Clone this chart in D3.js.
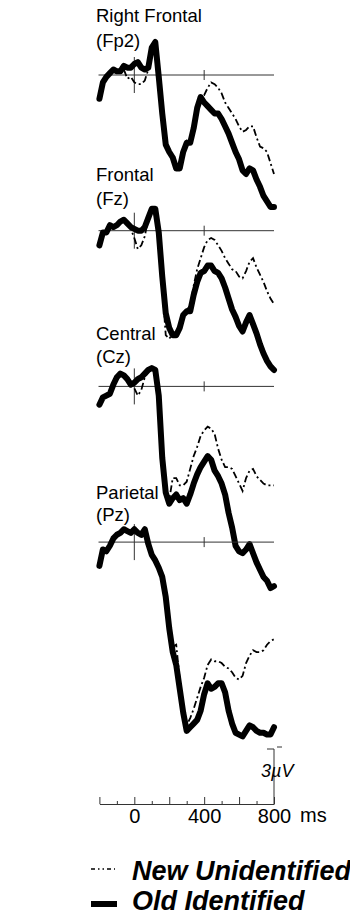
<!DOCTYPE html>
<html>
<head>
<meta charset="utf-8">
<script src="https://cdn.jsdelivr.net/npm/d3@7"></script>
<style>
body { margin: 0; background: #fff; }
svg { display: block; font-family: "Liberation Sans", Arial, sans-serif; }
</style>
</head>
<body>
<script>
// time points (ms), every 20 ms
var times = d3.range(-200, 801, 20);

var sites = ["Right Frontal", "Frontal", "Central", "Parietal"];
var siteCodes = ["(Fp2)", "(Fz)", "(Cz)", "(Pz)"];
var seriesNames = ["New Unidentified", "Old Identified"];

// amplitudes in microvolts, one value per time point
var oldFp2 = [-1.3, -0.4, -0.1, 0.1, 0.3, 0.2, 0.2, 0.5, 0.4, 0.4, 0.6, 0.7, 0.4, 0.3, 0.4, 1.5, 1.8, -0.1, -2.1, -3.8, -4.2, -4.5, -5.1, -5.1, -4.2, -3.7, -3.7, -2.9, -1.8, -1.2, -1.5, -1.7, -1.9, -2.1, -2.1, -2.4, -2.8, -3.2, -3.7, -4.2, -4.6, -5.2, -5.4, -5.1, -5.2, -5.7, -6.1, -6.6, -6.9, -7.2, -7.2];
var newFp2 = [-1.3, -0.4, -0.1, 0.1, 0.2, 0.2, 0.1, 0.3, -0.2, -0.1, -0.4, -0.5, -0.5, -0.3, 0.3, 1.4, 1.7, -0.2, -2.2, -3.9, -4.1, -4.6, -5.0, -5.0, -4.1, -3.6, -3.8, -2.8, -1.7, -1.2, -1.1, -0.7, -0.4, -0.5, -0.7, -1.0, -1.5, -1.8, -2.1, -2.4, -2.8, -3.1, -3.0, -2.8, -2.8, -3.4, -3.9, -4.0, -4.2, -4.8, -5.4];

var oldFz = [-0.8, -0.1, -0.1, 0.3, 0.2, 0.3, 0.5, 0.6, 0.4, 0.2, 0.1, 0.0, 0.0, 0.2, 0.7, 1.2, 1.2, -0.1, -2.5, -4.5, -5.3, -5.7, -5.7, -5.3, -4.6, -4.4, -4.4, -3.5, -2.8, -2.3, -2.2, -1.9, -1.9, -2.2, -2.3, -2.6, -3.1, -3.7, -4.3, -4.7, -5.2, -5.5, -5.0, -4.6, -5.1, -5.6, -6.2, -6.7, -7.1, -7.4, -7.6];
var newFz = [-0.8, -0.1, -0.1, 0.3, 0.2, 0.3, 0.4, 0.5, 0.3, 0.1, -0.4, -1.0, -0.8, -0.3, 0.7, 1.2, 1.1, -0.2, -3.0, -5.7, -5.9, -5.6, -5.5, -5.2, -4.5, -4.3, -4.1, -3.0, -2.1, -1.5, -0.9, -0.5, -0.4, -0.5, -0.8, -1.1, -1.5, -1.8, -2.1, -2.2, -2.5, -2.6, -2.2, -1.7, -1.5, -2.0, -2.4, -2.8, -3.3, -3.7, -4.0];

var oldCz = [-1.0, -0.6, -0.5, -0.4, 0.1, 0.5, 0.7, 0.6, 0.4, 0.1, 0.2, 0.4, 0.5, 0.7, 0.9, 1.0, 0.9, -0.5, -3.9, -5.8, -6.4, -6.1, -5.9, -6.2, -6.1, -6.4, -5.9, -5.3, -4.8, -4.4, -4.1, -3.8, -4.0, -4.6, -4.9, -5.3, -5.9, -6.9, -7.7, -8.7, -9.0, -9.1, -8.9, -8.6, -9.1, -9.6, -10.0, -10.4, -10.6, -11.0, -10.9];
var newCz = [-1.0, -0.6, -0.5, -0.4, 0.1, 0.5, 0.7, 0.6, 0.3, 0.0, -0.1, -0.5, -0.2, 0.5, 0.8, 0.9, 0.8, -0.6, -4.0, -5.9, -6.2, -5.0, -5.0, -5.4, -5.4, -5.2, -4.5, -3.8, -3.3, -2.7, -2.4, -2.2, -2.3, -2.6, -3.4, -4.0, -4.4, -4.4, -4.5, -4.9, -5.3, -5.7, -5.0, -4.6, -4.5, -4.9, -5.1, -5.3, -5.4, -5.4, -5.4];

var oldPz = [-1.3, -0.4, -0.5, -0.2, 0.2, 0.4, 0.5, 0.7, 0.6, 0.5, 0.7, 0.5, 0.4, 0.7, -0.1, -0.7, -1.0, -1.4, -1.9, -3.0, -4.7, -6.0, -6.7, -8.0, -9.3, -10.3, -10.1, -9.9, -9.7, -9.2, -8.3, -7.7, -8.0, -7.9, -7.7, -7.7, -8.2, -9.2, -9.9, -10.4, -10.5, -10.6, -10.3, -10.0, -10.1, -10.3, -10.4, -10.4, -10.5, -10.5, -10.1];
var newPz = [-1.3, -0.4, -0.5, -0.2, 0.2, 0.4, 0.6, 0.7, 0.5, 0.5, 0.6, 0.4, 0.4, 0.6, -0.1, -0.8, -1.0, -1.5, -2.0, -3.0, -4.6, -5.7, -5.6, -7.5, -9.0, -10.0, -9.6, -9.1, -8.5, -7.9, -7.4, -6.7, -6.4, -6.5, -6.5, -6.6, -6.8, -6.9, -7.1, -7.4, -7.5, -7.3, -6.6, -6.2, -5.9, -6.0, -6.0, -5.9, -5.6, -5.4, -5.3];

var newSeries = [newFp2, newFz, newCz, newPz];
var oldSeries = [oldFp2, oldFz, oldCz, oldPz];

var timeTicks = d3.range(-200, 801, 100);
var timeLabels = [0, 400, 800];
var scaleBarUV = 3;

var W = 350, H = 916;
var svg = d3.select("body").append("svg").attr("width", W).attr("height", H);

var x = d3.scaleLinear().domain([-200, 800]).range([99.4, 274]);
var pxPerUV = 18.33;

sites.forEach(function(site, i) {
	var base = 75 + i * 155.7;
	var y = d3.scaleLinear().domain([0, 1]).range([base, base - pxPerUV]);
	var g = svg.append("g");

	g.append("text").attr("x", 96).attr("y", 22 + i * 159)
		.attr("font-size", "18.5px").attr("fill", "#000").text(site);
	g.append("text").attr("x", 96).attr("y", 47 + i * 158)
		.attr("font-size", "18.5px").attr("fill", "#000").text(siteCodes[i]);

	// zero line and time markers
	g.append("line").attr("x1", x(-205)).attr("x2", x(800)).attr("y1", base).attr("y2", base)
		.attr("stroke", "#333").attr("stroke-width", 1);
	g.append("line").attr("x1", x(0)).attr("x2", x(0)).attr("y1", base - 18).attr("y2", base + 18)
		.attr("stroke", "#333").attr("stroke-width", 1);
	g.append("line").attr("x1", x(400)).attr("x2", x(400)).attr("y1", base - 5).attr("y2", base + 5)
		.attr("stroke", "#333").attr("stroke-width", 1);

	var line = d3.line()
		.x(function(d, k) { return x(times[k]); })
		.y(function(d) { return y(d); });

	g.append("path").datum(newSeries[i]).attr("d", line)
		.attr("fill", "none").attr("stroke", "#000").attr("stroke-width", 1.8)
		.attr("stroke-dasharray", "7,3,2,3");
	g.append("path").datum(oldSeries[i]).attr("d", line)
		.attr("fill", "none").attr("stroke", "#000").attr("stroke-width", 6)
		.attr("stroke-linejoin", "round").attr("stroke-linecap", "round");
});

// time axis
var axisY = 804;
var axis = d3.axisBottom(x).tickValues(timeTicks).tickSizeInner(-7).tickSizeOuter(0).tickPadding(4)
	.tickFormat(function(d) { return timeLabels.indexOf(d) >= 0 ? d : ""; });
var ax = svg.append("g").attr("transform", "translate(0," + axisY + ")").call(axis);
ax.select(".domain").attr("stroke", "#333");
ax.selectAll(".tick line").attr("stroke", "#333")
	.attr("y2", function(d) { return d % 200 === 0 ? -7 : -3; });
ax.selectAll(".tick text").attr("font-size", "20px").attr("font-family", "Liberation Sans, Arial, sans-serif")
	.attr("fill", "#000").attr("dy", "0.75em");
svg.append("text").attr("x", 300).attr("y", axisY + 18).attr("font-size", "20px").text("ms");

// amplitude scale bar
var barX = x(800);
var barTop = axisY - scaleBarUV * pxPerUV;
svg.append("line").attr("x1", barX).attr("x2", barX).attr("y1", axisY).attr("y2", barTop)
	.attr("stroke", "#333").attr("stroke-width", 1);
svg.append("line").attr("x1", barX - 7).attr("x2", barX).attr("y1", barTop).attr("y2", barTop)
	.attr("stroke", "#333").attr("stroke-width", 1);
svg.append("line").attr("x1", barX + 3).attr("x2", barX + 8).attr("y1", barTop - 2).attr("y2", barTop - 2)
	.attr("stroke", "#333").attr("stroke-width", 1);
svg.append("text").attr("x", 261).attr("y", 777).attr("font-size", "18px").attr("font-style", "italic")
	.text(scaleBarUV + "\u00b5V");

// legend
var legend = svg.append("g");
legend.append("line").attr("x1", 91).attr("x2", 115).attr("y1", 869).attr("y2", 869)
	.attr("stroke", "#000").attr("stroke-width", 1.5).attr("stroke-dasharray", "4,3,1.5,3,1.5,3");
legend.append("line").attr("x1", 91).attr("x2", 117).attr("y1", 904).attr("y2", 904)
	.attr("stroke", "#000").attr("stroke-width", 6);
legend.selectAll("text.lg").data(seriesNames).enter().append("text")
	.attr("x", 132).attr("y", function(d, i) { return 880 + i * 30; })
	.attr("font-size", "27px").attr("font-weight", "bold").attr("font-style", "italic")
	.text(function(d) { return d; });
</script>
</body>
</html>
